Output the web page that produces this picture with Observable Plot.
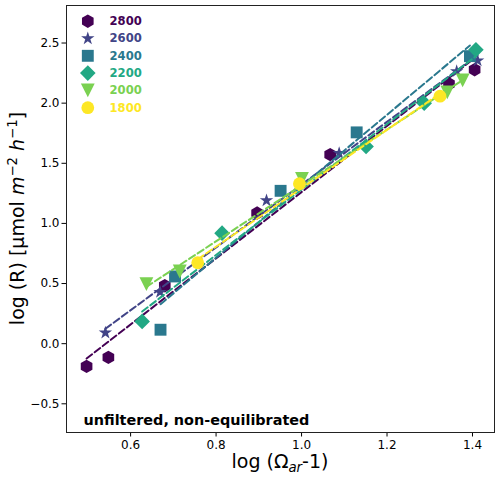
<!DOCTYPE html>
<html>
<head>
<meta charset="utf-8">
<script src="https://cdn.jsdelivr.net/npm/d3@7"></script>
<script src="https://cdn.jsdelivr.net/npm/@observablehq/plot@0.6"></script>
<style>
  html, body { margin: 0; padding: 0; background: #fff; }
  #chart { width: 500px; height: 478px; }
</style>
</head>
<body>
<div id="chart"></div>
<script>
// ---- data ----
const temps = [2800, 2600, 2400, 2200, 2000, 1800];

const x2800 = [0.497, 0.548, 0.680, 0.896, 1.067, 1.345, 1.405];
const y2800 = [-0.189, -0.114, 0.482, 1.086, 1.572, 2.161, 2.278];

const x2600 = [0.541, 0.669, 0.918, 1.088, 1.363, 1.412];
const y2600 = [0.091, 0.429, 1.191, 1.584, 2.264, 2.354];

const x2400 = [0.670, 0.704, 0.951, 1.129, 1.394];
const y2400 = [0.116, 0.559, 1.271, 1.757, 2.391];

const x2200 = [0.627, 0.814, 1.151, 1.287, 1.408];
const y2200 = [0.185, 0.919, 1.640, 2.000, 2.444];

const x2000 = [0.637, 0.715, 1.001, 1.341, 1.377];
const y2000 = [0.495, 0.600, 1.370, 2.090, 2.190];

const x1800 = [0.757, 0.995, 1.324];
const y1800 = [0.673, 1.330, 2.058];

const xTicks = [0.6, 0.8, 1.0, 1.2, 1.4];
const yTicks = [-0.5, 0.0, 0.5, 1.0, 1.5, 2.0, 2.5];

const annotation = "unfiltered, non-equilibrated";

// ---- styles ----
const colors = ["#440154", "#414487", "#2a788e", "#22a884", "#7ad151", "#fde725"];

// custom marker shapes (matplotlib h, *, s, D, v, o)
const hexagon = {draw(c, size) {
  const R = Math.sqrt(size / Math.PI) * 1.05;
  for (let i = 0; i < 6; i++) {
    const a = -Math.PI / 2 + i * Math.PI / 3;
    const px = R * Math.cos(a), py = R * Math.sin(a);
    i ? c.lineTo(px, py) : c.moveTo(px, py);
  }
  c.closePath();
}};
const star = {draw(c, size) {
  const R = Math.sqrt(size / Math.PI) * 1.1, r = R * 0.382;
  for (let i = 0; i < 10; i++) {
    const a = -Math.PI / 2 + i * Math.PI / 5;
    const rr = i % 2 ? r : R;
    const px = rr * Math.cos(a), py = rr * Math.sin(a);
    i ? c.lineTo(px, py) : c.moveTo(px, py);
  }
  c.closePath();
}};
const square = {draw(c, size) {
  const h = Math.sqrt(size / Math.PI) * 0.93;
  c.moveTo(-h, -h); c.lineTo(h, -h); c.lineTo(h, h); c.lineTo(-h, h); c.closePath();
}};
const diamond = {draw(c, size) {
  const h = Math.sqrt(size / Math.PI) * 1.22;
  c.moveTo(0, -h); c.lineTo(h, 0); c.lineTo(0, h); c.lineTo(-h, 0); c.closePath();
}};
const triDown = {draw(c, size) {
  const a = Math.sqrt(size / Math.PI) * 1.08;
  c.moveTo(-a, -a); c.lineTo(a, -a); c.lineTo(0, a); c.closePath();
}};
const circle = {draw(c, size) {
  const r = Math.sqrt(size / Math.PI) * 1.0;
  c.moveTo(r, 0); c.arc(0, 0, r, 0, 2 * Math.PI); c.closePath();
}};
const symbols = [hexagon, star, square, diamond, triDown, circle];

const xs = [x2800, x2600, x2400, x2200, x2000, x1800];
const ys = [y2800, y2600, y2400, y2200, y2000, y1800];

const R = 6.4;
const marks = [];
temps.forEach((t, i) => {
  const rows = xs[i].map((x, j) => ({temp: t, x, y: ys[i][j]}));
  marks.push(Plot.dot(rows, {x: "x", y: "y", r: R, symbol: symbols[i], fill: colors[i], stroke: "none"}));
  marks.push(Plot.linearRegressionY(rows, {x: "x", y: "y", ci: 0, stroke: colors[i], strokeWidth: 2, strokeDasharray: "7,3.2"}));
});
// legend (inside the frame, top-left)
temps.forEach((t, i) => {
  marks.push(Plot.dot([t], {frameAnchor: "top-left", dx: 21.3, dy: 15.7 + i * 17.3, r: R, symbol: symbols[i], fill: colors[i], stroke: "none"}));
  marks.push(Plot.text([t], {frameAnchor: "top-left", dx: 43, dy: 15.9 + i * 17.3, text: d => String(d), fill: colors[i], fontWeight: "bold", fontSize: 11.6, textAnchor: "start", lineAnchor: "middle"}));
});
marks.push(Plot.text([annotation], {frameAnchor: "bottom-left", dx: 17, dy: -12.6, text: d => d, fill: "#000", fontWeight: "bold", fontSize: 14.4, textAnchor: "start", lineAnchor: "middle"}));
marks.push(Plot.frame({stroke: "#222", strokeWidth: 1}));

const chart = Plot.plot({
  width: 500, height: 478,
  marginLeft: 66, marginRight: 6, marginTop: 5, marginBottom: 46,
  style: {fontFamily: "DejaVu Sans, sans-serif", fontSize: "12px", color: "#000", background: "#fff", overflow: "visible"},
  x: {domain: [0.45, 1.4515], ticks: xTicks, tickFormat: d3.format(".1f"), label: null, tickSize: 4.5, tickPadding: 3},
  y: {domain: [-0.7386, 2.812], ticks: yTicks, tickFormat: d3.format(".1f"), label: null, tickSize: 4.5, tickPadding: 2.5},
  marks
});
document.getElementById("chart").appendChild(chart);

// axis titles with math-style sub/superscripts
const svg = d3.select(chart);
const xl = svg.append("text")
  .attr("x", 280).attr("y", 468)
  .attr("text-anchor", "middle")
  .attr("font-family", "DejaVu Sans, sans-serif")
  .attr("font-size", 19).attr("fill", "#000");
xl.append("tspan").text("log (Ω");
xl.append("tspan").attr("font-size", 13.3).attr("font-style", "italic").attr("dy", 4).text("ar");
xl.append("tspan").attr("dy", -4).text("-1)");

const yl = svg.append("text")
  .attr("transform", "translate(24,218.5) rotate(-90)")
  .attr("text-anchor", "middle")
  .attr("font-family", "DejaVu Sans, sans-serif")
  .attr("font-size", 19).attr("fill", "#000");
yl.append("tspan").text("log (R) [µmol ");
yl.append("tspan").attr("font-style", "italic").text("m");
yl.append("tspan").attr("font-size", 13.3).attr("dy", -7).text("−2");
yl.append("tspan").attr("dy", 7).text(" ");
yl.append("tspan").attr("font-style", "italic").text("h");
yl.append("tspan").attr("font-size", 13.3).attr("dy", -7).text("−1");
yl.append("tspan").attr("dy", 7).text("]");
</script>
</body>
</html>
